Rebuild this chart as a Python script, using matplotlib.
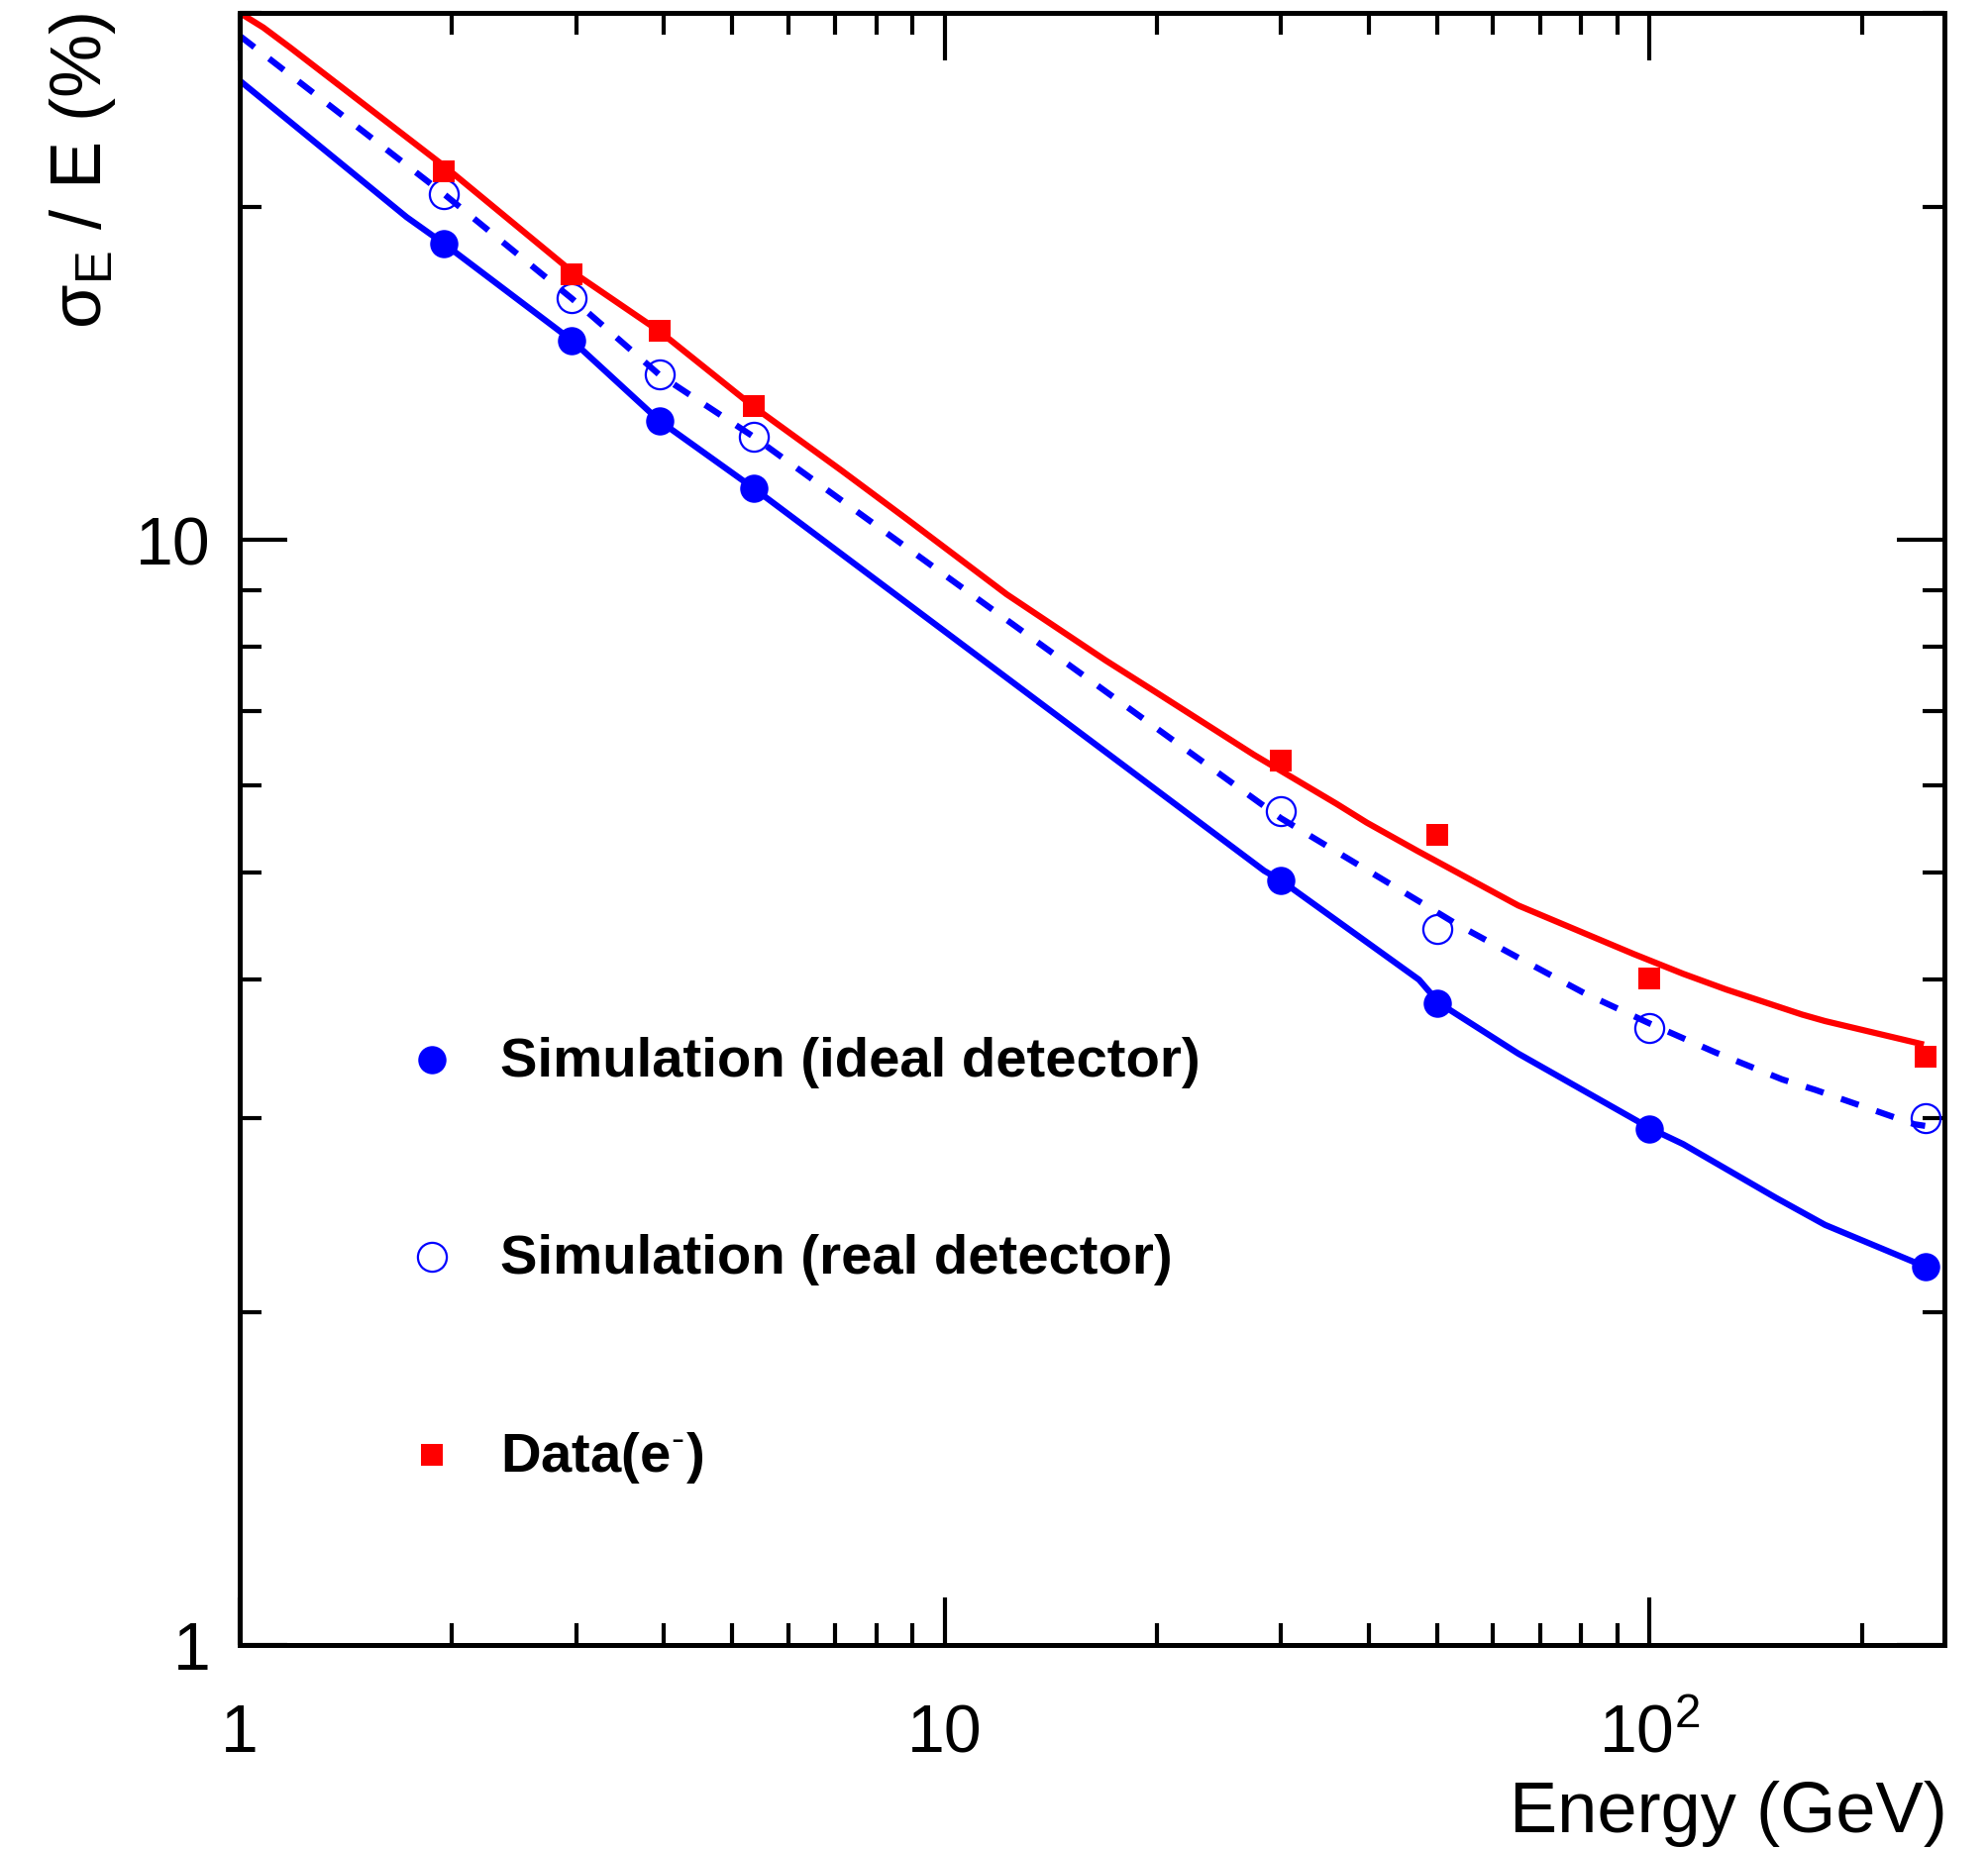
import numpy as np
import matplotlib
matplotlib.use("Agg")
import matplotlib.pyplot as plt
from matplotlib.ticker import LogLocator, FixedLocator, FixedFormatter, NullFormatter

plt.rcParams["font.family"] = ["Liberation Sans", "DejaVu Sans"]
plt.rcParams["mathtext.fontset"] = "custom"
plt.rcParams["mathtext.rm"] = "Liberation Sans"
plt.rcParams["mathtext.bf"] = "Liberation Sans:bold"

# measured points (GeV, %)
energy = [1.95, 2.96, 3.94, 5.36, 30, 50, 100, 246]
res_ideal = [18.54, 15.16, 12.82, 11.14, 4.92, 3.81, 2.93, 2.20]
res_real = [20.56, 16.54, 14.11, 12.40, 5.69, 4.45, 3.62, 3.00]
res_data = [21.57, 17.41, 15.48, 13.23, 6.31, 5.41, 4.01, 3.41]

# fit curves as drawn on the plot
curve_ideal_e = [1, 1.725, 1.95, 2.96, 3.94, 5.36, 28.4, 30, 47.1, 50.3, 65.1, 100.7, 111.6, 151, 177.4, 246]
curve_ideal_v = [26.05, 19.6, 18.54, 15.16, 12.82, 11.14, 5.02, 4.92, 4.00, 3.81, 3.43, 2.93, 2.84, 2.54, 2.40, 2.20]
curve_real_e = [1, 1.95, 2.96, 3.94, 5.36, 30, 47.1, 53.3, 65.5, 80.8, 100.2, 123.7, 154.2, 171.8, 237.5, 246]
curve_real_v = [28.6, 20.56, 16.54, 14.11, 12.40, 5.6, 4.71, 4.49, 4.18, 3.89, 3.65, 3.44, 3.25, 3.18, 2.96, 2.95]
curve_data_e = [1, 1.08, 1.18, 1.95, 2.96, 3.94, 5.36, 7.14, 8.87, 12.25, 16.93, 19.89, 27.49, 36.0,
                39.7, 46.9, 65.1, 95, 111.6, 128.4, 164.6, 177.4, 242.6]
curve_data_v = [30.0, 29.1, 27.9, 21.8, 17.5, 15.45, 13.2, 11.56, 10.43, 8.93, 7.78, 7.29, 6.39, 5.77,
                5.55, 5.23, 4.67, 4.22, 4.05, 3.92, 3.72, 3.67, 3.50]

legend_labels = ["Simulation (ideal detector)", "Simulation (real detector)", r"Data(e$^{\text{-}}$)"]

BLUE, RED = "#0000ff", "#ff0000"

fig = plt.figure(figsize=(20.08, 18.67), dpi=100)
ax = fig.add_axes([242 / 2008, 1 - 1661 / 1867, 1721 / 2008, 1648 / 1867])

ax.plot(curve_data_e, curve_data_v, color=RED, lw=4.5, solid_joinstyle="round")
ax.plot(curve_real_e, curve_real_v, color=BLUE, lw=4.5, dashes=(3, 3))
ax.plot(curve_ideal_e, curve_ideal_v, color=BLUE, lw=4.5, solid_joinstyle="round")

ax.plot(energy, res_ideal, "o", ms=20.5, color=BLUE, mew=0)
ax.plot(energy, res_real, "o", ms=21, mfc="none", mec=BLUE, mew=1.6)
ax.plot(energy, res_data, "s", ms=16.5, color=RED, mew=0)

ax.set_xscale("log"); ax.set_yscale("log")
ax.set_xlim(1, 262); ax.set_ylim(1, 30)
ax.xaxis.set_major_locator(FixedLocator([1, 10, 100]))
ax.xaxis.set_major_formatter(FixedFormatter(["1", "10", r"$\mathregular{10^{2}}$"]))
ax.yaxis.set_major_locator(FixedLocator([1, 10]))
ax.yaxis.set_major_formatter(FixedFormatter(["1", "10"]))
for axis in (ax.xaxis, ax.yaxis):
    axis.set_minor_locator(LogLocator(base=10, subs=np.arange(2, 10), numticks=20))
    axis.set_minor_formatter(NullFormatter())
ax.tick_params(which="both", direction="in", top=True, right=True, width=3, labelsize=49)
ax.tick_params(which="major", length=34.5)
ax.tick_params(which="minor", length=16)
ax.tick_params(axis="x", pad=42)
ax.tick_params(axis="y", pad=21)
for s in ax.spines.values():
    s.set_linewidth(3.6)

# legend drawn by hand (ROOT style, no frame)
leg_marks = [dict(marker="o", ms=20.5, color=BLUE, mew=0),
             dict(marker="o", ms=21, mfc="none", mec=BLUE, mew=1.6),
             dict(marker="s", ms=16.5, color=RED, mew=0)]
leg_y = [0.3588, 0.2377, 0.1167]
for lab, mk, y in zip(legend_labels, leg_marks, leg_y):
    ax.plot([0.1126], [y], transform=ax.transAxes, ls="none", clip_on=False, **mk)
    ax.text(0.1528, y - 0.0104, lab, transform=ax.transAxes, fontsize=40.5,
            fontweight="bold", ha="left", va="baseline")

fig.text(1966 / 2008, 1 - 1850 / 1867, "Energy (GeV)", ha="right", va="baseline", fontsize=52)
fig.text(84 / 2008, 1 - 13 / 1867, r"$\mathregular{\sigma_{E}}$ / E (%)", rotation=90,
         ha="center", va="top", fontsize=52)

fig.savefig("out.png", dpi=100)
